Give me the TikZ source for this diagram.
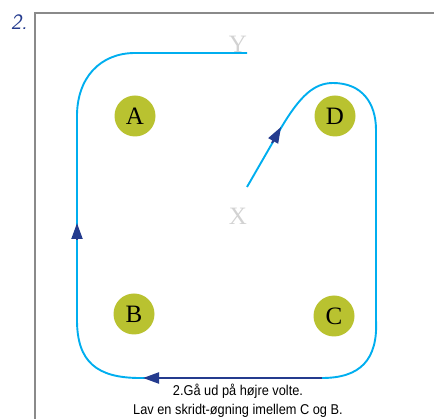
\documentclass[tikz,border=0pt]{standalone}
\usepackage{fontspec}
\setmainfont{Liberation Serif}
\newfontfamily\condfont[FakeStretch=0.9]{Liberation Sans}
\usetikzlibrary{arrows.meta}
\definecolor{track}{HTML}{00AEEF}
\definecolor{navy}{HTML}{243B8E}
\definecolor{olive}{HTML}{B9C230}
\definecolor{frame}{HTML}{8A8A8A}
\definecolor{faint}{HTML}{D2D2D2}

\begin{document}
\begin{tikzpicture}[x=1pt,y=-1pt,
  letter/.style={circle,fill=olive,minimum size=41pt,inner sep=0pt,font=\fontsize{25}{25}\selectfont},
  place/.style={text=faint,font=\fontsize{25}{25}\selectfont,inner sep=0pt},
  tip/.style={navy,-{Triangle[length=16pt,width=11pt]}},
  every node/.style={font=\small}]
  \useasboundingbox (0,0) rectangle (434,419);
  \draw[frame,line width=2pt] (35,419) -- (35,13) -- (434,13);
  \node[text=navy,font=\sffamily\itshape\fontsize{22}{22}\selectfont] (nr) at (19,22) {2.};
  \node[letter] (a) at (135,116) {A};
  \node[letter] (d) at (335,116) {D};
  \node[letter] (b) at (134,314) {B};
  \node[letter] (c) at (334,316) {C};
  \node[place] (y) at (238,44) {Y};
  \node[place] (x) at (238,216) {X};
  \coordinate (start) at (247,187);
  \coordinate (finish) at (247,53);
  \draw[track,line width=1.9pt] (start) -- (281,128)
    .. controls (300,96) and (314,83) .. (333,83)
    .. controls (362,83) and (376,103) .. (376,130)
    -- (376,320) .. controls (378,360) and (360,378) .. (322,378)
    -- (140,378) .. controls (97,378) and (77,362) .. (77,320)
    -- (77,116) .. controls (77,78) and (100,53) .. (135,53) -- (finish);
  \draw[tip,line width=2.2pt] (322,378) -- (143,378);
  \draw[tip,line width=1.9pt] (77,240) -- (77,223);
  \draw[tip,line width=1.9pt] (272,143) -- (281,127);
  \node[anchor=north,font=\condfont\fontsize{14.2}{19}\selectfont,align=center,inner sep=0pt] (note) at (238,384)
    {2.Gå ud på højre volte.\\Lav en skridt-øgning imellem C og B.};
\end{tikzpicture}
\end{document}
